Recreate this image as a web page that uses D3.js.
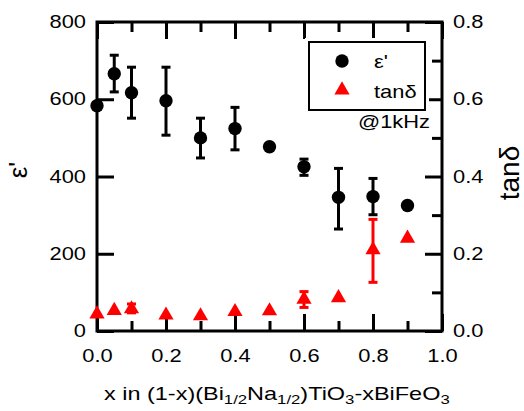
<!DOCTYPE html>
<html>
<head>
<meta charset="utf-8">
<script src="https://cdn.jsdelivr.net/npm/d3@7"></script>
<style>
  body { margin: 0; background: #fff; }
  svg text { font-family: "Liberation Sans", Arial, sans-serif; fill: #000; }
  .wide { transform-box: fill-box; transform: scaleX(1.25); }
  .wider { transform-box: fill-box; transform: scaleX(1.34); }
</style>
</head>
<body>
<svg id="chart"></svg>
<script>
// composition x
const xValues = [0.0, 0.05, 0.1, 0.2, 0.3, 0.4, 0.5, 0.6, 0.7, 0.8, 0.9];
// permittivity eps' with error bar limits (null = no bar)
const epsValues = [583, 666, 617, 596, 500, 524, 477, 425, 346, 348, 325];
const epsLow = [null, 619, 551, 507, 448, 469, null, 403, 264, 301, null];
const epsHigh = [null, 714, 683, 683, 551, 579, null, 445, 421, 395, null];
// loss tangent with error bar limits
const tanValues = [0.044, 0.053, 0.057, 0.041, 0.039, 0.05, 0.052, 0.082, 0.086, 0.21, 0.24];
const tanLow = [null, null, 0.047, null, null, null, null, 0.061, null, 0.126, null];
const tanHigh = [null, null, 0.07, null, null, null, null, 0.102, null, 0.289, null];

const xMajor = [0, 0.2, 0.4, 0.6, 0.8, 1.0];
const xMinor = [0.1, 0.3, 0.5, 0.7, 0.9];
const yLeftTicks = [0, 200, 400, 600, 800];
const yRightMajor = [0, 0.2, 0.4, 0.6, 0.8];
const yRightMinor = [0.1, 0.3, 0.5, 0.7];

const W = 524, H = 411;
const margin = {top: 22, right: 82, bottom: 80, left: 97};
const width = W - margin.left - margin.right;
const height = H - margin.top - margin.bottom;

const svg = d3.select('#chart').attr('width', W).attr('height', H);
const g = svg.append('g').attr('transform', `translate(${margin.left},${margin.top})`);

const x = d3.scaleLinear().domain([0, 1]).range([0, width]);
const yL = d3.scaleLinear().domain([0, 800]).range([height, 0]);
const yR = d3.scaleLinear().domain([0, 0.8]).range([height, 0]);

const major = 17, minor = 10;

function styleAxis(sel, origin) {
    sel.select('.domain').remove();
    sel.selectAll('.tick line').attr('stroke', '#000').attr('stroke-width', 3);
    sel.selectAll('.tick text')
        .attr('font-size', 17.5)
        .attr('class', 'wide')
        .style('transform-origin', origin);
}

// bottom
g.append('g').attr('transform', `translate(0,${height})`)
    .call(d3.axisBottom(x).tickValues(xMajor).tickSize(-major).tickPadding(18.5).tickFormat(d3.format('.1f')))
    .call(s => styleAxis(s, 'center'));
g.append('g').attr('transform', `translate(0,${height})`)
    .call(d3.axisBottom(x).tickValues(xMinor).tickSize(-minor).tickFormat(''))
    .call(s => styleAxis(s, 'center'));
// top
g.append('g')
    .call(d3.axisTop(x).tickValues(xMajor).tickSize(-major).tickFormat(''))
    .call(s => styleAxis(s, 'center'));
g.append('g')
    .call(d3.axisTop(x).tickValues(xMinor).tickSize(-minor).tickFormat(''))
    .call(s => styleAxis(s, 'center'));
// left
g.append('g')
    .call(d3.axisLeft(yL).tickValues(yLeftTicks).tickSize(-major).tickPadding(11))
    .call(s => styleAxis(s, 'right center'));
// right
g.append('g').attr('transform', `translate(${width},0)`)
    .call(d3.axisRight(yR).tickValues(yRightMajor).tickSize(-major).tickPadding(11).tickFormat(d3.format('.1f')))
    .call(s => styleAxis(s, 'left center'));
g.append('g').attr('transform', `translate(${width},0)`)
    .call(d3.axisRight(yR).tickValues(yRightMinor).tickSize(-minor).tickFormat(''))
    .call(s => styleAxis(s, 'left center'));

// frame
g.append('rect')
    .attr('width', width).attr('height', height)
    .attr('fill', 'none').attr('stroke', '#000').attr('stroke-width', 3);

// legend
const leg = svg.append('g');
leg.append('rect').attr('x', 305).attr('y', 38).attr('width', 124).attr('height', 76).attr('fill', '#fff');
leg.append('rect').attr('x', 309).attr('y', 42).attr('width', 116).attr('height', 68)
    .attr('fill', '#fff').attr('stroke', '#000').attr('stroke-width', 2);
leg.append('circle').attr('cx', 342).attr('cy', 61).attr('r', 6.7).attr('fill', '#000');
leg.append('path').attr('d', d3.symbol(d3.symbolTriangle, 100)())
    .attr('transform', 'translate(342,90)').attr('fill', '#ff0000');
leg.append('text').attr('x', 374).attr('y', 68).attr('font-size', 17.5)
    .attr('class', 'wide').style('transform-origin', 'left center').text("ε'");
leg.append('text').attr('x', 374).attr('y', 98).attr('font-size', 17.5)
    .attr('class', 'wide').style('transform-origin', 'left center').text('tanδ');
svg.append('text').attr('x', 430).attr('y', 128.5).attr('font-size', 17.5)
    .attr('text-anchor', 'end')
    .attr('class', 'wide').style('transform-origin', 'right center').text('@1kHz');

// data
const epsData = xValues.map((v, i) => ({x: v, y: epsValues[i], lo: epsLow[i], hi: epsHigh[i]}));
const tanData = xValues.map((v, i) => ({x: v, y: tanValues[i], lo: tanLow[i], hi: tanHigh[i]}));

function errorBars(data, scale, color, cap) {
    const eb = g.append('g').selectAll('g').data(data.filter(d => d.lo !== null)).join('g')
        .attr('stroke', color).attr('stroke-width', 3);
    eb.append('line').attr('x1', d => x(d.x)).attr('x2', d => x(d.x))
        .attr('y1', d => scale(d.lo)).attr('y2', d => scale(d.hi));
    eb.append('line').attr('x1', d => x(d.x) - cap).attr('x2', d => x(d.x) + cap)
        .attr('y1', d => scale(d.lo)).attr('y2', d => scale(d.lo));
    eb.append('line').attr('x1', d => x(d.x) - cap).attr('x2', d => x(d.x) + cap)
        .attr('y1', d => scale(d.hi)).attr('y2', d => scale(d.hi));
}

errorBars(epsData, yL, '#000', 4.5);
g.append('g').selectAll('circle').data(epsData).join('circle')
    .attr('cx', d => x(d.x)).attr('cy', d => yL(d.y)).attr('r', 6.7).attr('fill', '#000');

errorBars(tanData, yR, '#ff0000', 4.5);
g.append('g').selectAll('path').data(tanData).join('path')
    .attr('d', d3.symbol(d3.symbolTriangle, 100))
    .attr('transform', d => `translate(${x(d.x)},${yR(d.y)})`)
    .attr('fill', '#ff0000');

// axis titles
const title = svg.append('text').attr('x', 104).attr('y', 400.5).attr('font-size', 17.5)
    .attr('class', 'wider').style('transform-origin', 'left center');
title.append('tspan').text('x in (1-x)(Bi');
title.append('tspan').attr('font-size', 12.5).attr('dy', 4).text('1/2');
title.append('tspan').attr('dy', -4).text('Na');
title.append('tspan').attr('font-size', 12.5).attr('dy', 4).text('1/2');
title.append('tspan').attr('dy', -4).text(')TiO');
title.append('tspan').attr('font-size', 12.5).attr('dy', 4).text('3');
title.append('tspan').attr('dy', -4).text('-xBiFeO');
title.append('tspan').attr('font-size', 12.5).attr('dy', 4).text('3');

svg.append('text').attr('transform', 'translate(27,170) rotate(-90)')
    .attr('text-anchor', 'middle').attr('font-size', 26).text("ε'");
svg.append('text').attr('transform', 'translate(519,173) rotate(-90)')
    .attr('text-anchor', 'middle').attr('font-size', 28).text('tanδ');
</script>
</body>
</html>
